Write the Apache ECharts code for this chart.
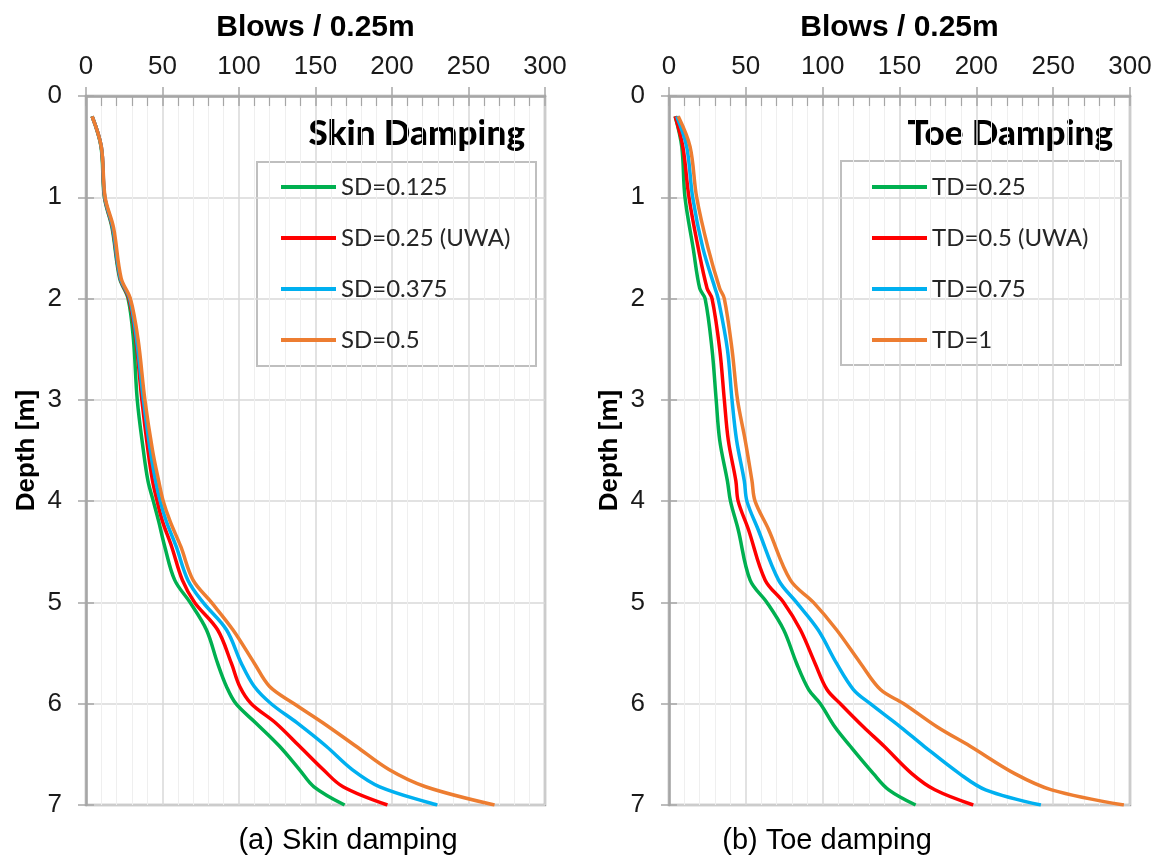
<!DOCTYPE html>
<html>
<head>
<meta charset="utf-8">
<title>Skin and toe damping</title>
<script src="https://cdn.jsdelivr.net/npm/echarts@6/dist/echarts.min.js"></script>
<style>
  html, body { margin: 0; padding: 0; background: #fff; }
  #chart { width: 1159px; height: 860px; }
</style>
</head>
<body>
<div id="chart"></div>
<script>
// Depth [m] at which the blow counts were read, (a) skin damping
const DEPTH_SKIN = [0.2, 0.5, 1.0, 1.3, 1.8, 2.0, 2.4, 3.0, 3.5, 3.8, 4.0, 4.2, 4.45, 4.78, 5.0, 5.27, 5.6, 5.83, 6.0, 6.19, 6.42, 6.65, 6.82, 7.0];
const SD_0125 = [4, 9.8, 12, 17, 22, 27.5, 31, 33.5, 37.5, 40.5, 44, 47.5, 51.5, 58, 68, 78.7, 86, 91.8, 98, 111, 126.5, 139.5, 149, 169];
const SD_025  = [4, 10, 12.2, 17.3, 22.3, 28, 32.5, 36.5, 40.5, 43.5, 46.5, 50, 56, 63, 71, 86, 95, 100.5, 108, 124, 139.6, 155, 168, 197];
const SD_0375 = [4, 10, 12.3, 17.5, 22.5, 28.5, 33, 37.5, 42, 45.5, 48.5, 52.5, 59, 66.6, 76.5, 91.8, 101.5, 110, 121, 138, 157, 174, 192, 229.6];
const SD_05   = [4, 10, 12.5, 18, 23, 29, 34, 38.5, 43.5, 47.5, 50.5, 55, 62, 70, 82, 96, 110, 120, 136, 155, 176.5, 198, 222, 267];

// (b) toe damping
const DEPTH_TOE = [0.2, 0.5, 1.0, 1.5, 1.9, 2.0, 2.5, 3.0, 3.4, 3.8, 4.0, 4.28, 4.78, 5.0, 5.27, 5.6, 5.86, 6.0, 6.23, 6.42, 6.69, 6.85, 7.0];
const TD_025 = [4, 8.3, 10.4, 15.7, 20, 23.5, 28, 30.7, 33, 38, 40, 45, 52.8, 63.7, 74.6, 83, 90.9, 98.5, 108, 118, 133, 143, 160.5];
const TD_05  = [4, 9, 13, 19, 24.8, 28, 33, 36, 38.6, 43.5, 45, 51.7, 62.6, 74.6, 85.5, 95, 102.8, 111.5, 126.6, 140, 158, 173, 198];
const TD_075 = [5, 11.5, 15.4, 22, 30, 32, 38, 41, 44, 49, 50.7, 58, 71.3, 83, 97, 109, 120, 131, 150.7, 166, 189, 206, 242];
const TD_1   = [6, 13.7, 18, 25.4, 33, 36, 41, 44.6, 49.6, 54, 56, 64.8, 79, 94, 109, 124.6, 137.6, 152.8, 174.6, 196, 225, 249, 296];

const SKIN_NAMES = ['SD=0.125', 'SD=0.25 (UWA)', 'SD=0.375', 'SD=0.5'];
const TOE_NAMES = ['TD=0.25', 'TD=0.5 (UWA)', 'TD=0.75', 'TD=1'];
const COLORS = ['#00b050', '#ff0000', '#00b0f0', '#ed7d31'];

const AXIS_FONT = 'Liberation Sans, Arial, sans-serif';
const LEGEND_FONT = 'Lato, Carlito, sans-serif';
const FRAME = '#a6a6a6';

const chart = echarts.init(document.getElementById('chart'));

const grids = [
    { left: 86, top: 96, width: 459, height: 709 },
    { left: 669, top: 96, width: 461, height: 709 }
];

function xAxes(gridIndex) {
    return [{
        gridIndex,
        type: 'value',
        position: 'top',
        min: 0,
        max: 300,
        interval: 50,
        name: 'Blows / 0.25m',
        nameLocation: 'middle',
        nameGap: 53,
        nameTextStyle: { fontFamily: AXIS_FONT, fontSize: 30, fontWeight: 'bold', color: '#000' },
        axisLine: { lineStyle: { color: FRAME, width: 2.5 } },
        axisTick: { inside: true, length: 10, lineStyle: { color: FRAME, width: 1.5 } },
        minorTick: { show: true, splitNumber: 5, length: 10, lineStyle: { color: FRAME, width: 1.2 } },
        axisLabel: { margin: 16, fontFamily: AXIS_FONT, fontSize: 26, color: '#1a1a1a' },
        splitLine: { lineStyle: { color: '#d9d9d9', width: 1.5 } },
        minorSplitLine: { show: true, lineStyle: { color: '#efefef', width: 1 } }
    }, {
        // upper half of the crossing major ticks
        gridIndex,
        type: 'value',
        position: 'top',
        min: 0,
        max: 300,
        interval: 50,
        axisLine: { show: false },
        axisTick: { inside: false, length: 9, lineStyle: { color: FRAME, width: 1.5 } },
        axisLabel: { show: false },
        splitLine: { show: false }
    }];
}

function yAxes(gridIndex) {
    return [{
        gridIndex,
        type: 'value',
        inverse: true,
        min: 0,
        max: 7,
        interval: 1,
        name: 'Depth [m]',
        nameLocation: 'middle',
        nameGap: 46,
        nameTextStyle: { fontFamily: AXIS_FONT, fontSize: 26, fontWeight: 'bold', color: '#000' },
        axisLine: { lineStyle: { color: FRAME, width: 2.5 } },
        axisTick: { inside: false, length: 8, lineStyle: { color: FRAME, width: 1.5 } },
        axisLabel: { margin: 24, fontFamily: AXIS_FONT, fontSize: 26, color: '#1a1a1a' },
        splitLine: { lineStyle: { color: '#d9d9d9', width: 1.5 } }
    }, {
        gridIndex,
        type: 'value',
        inverse: true,
        min: 0,
        max: 7,
        interval: 1,
        position: 'left',
        axisLine: { show: false },
        axisTick: { inside: true, length: 8, lineStyle: { color: FRAME, width: 1.5 } },
        axisLabel: { show: false },
        splitLine: { show: false }
    }];
}

function makeSeries(names, depths, columns, axisOffset) {
    return columns.map((vals, i) => ({
        name: names[i],
        type: 'line',
        xAxisIndex: axisOffset,
        yAxisIndex: axisOffset,
        data: vals.map((v, k) => [v, depths[k]]),
        smooth: 0.35,
        showSymbol: false,
        lineStyle: { color: COLORS[i], width: 3.5 },
        itemStyle: { color: COLORS[i] },
        z: 2 + i
    }));
}

function legendFor(names, left) {
    return {
        data: names,
        orient: 'vertical',
        left,
        top: 175,
        icon: 'rect',
        itemWidth: 55,
        itemHeight: 4,
        itemGap: 27,
        padding: 0,
        textStyle: { fontFamily: LEGEND_FONT, fontSize: 24, lineHeight: 24, color: '#262626' }
    };
}

const option = {
    animation: false,
    grid: grids.map(g => Object.assign({ show: true, borderColor: FRAME, borderWidth: 2.5, containLabel: false }, g)),
    xAxis: [...xAxes(0), ...xAxes(1)],
    yAxis: [...yAxes(0), ...yAxes(1)],
    legend: [legendFor(SKIN_NAMES, 281), legendFor(TOE_NAMES, 872)],
    series: [
        ...makeSeries(SKIN_NAMES, DEPTH_SKIN, [SD_0125, SD_025, SD_0375, SD_05], 0),
        ...makeSeries(TOE_NAMES, DEPTH_TOE, [TD_025, TD_05, TD_075, TD_1], 2)
    ],
    graphic: [
        { type: 'rect', shape: { x: 257, y: 162, width: 279, height: 204 }, style: { fill: '#fff', stroke: '#bfbfbf', lineWidth: 2 }, z: 0 },
        { type: 'rect', shape: { x: 841, y: 161, width: 280, height: 204 }, style: { fill: '#fff', stroke: '#bfbfbf', lineWidth: 2 }, z: 0 },
        { type: 'text', x: 525, y: 134, style: { text: 'Skin Damping', align: 'right', verticalAlign: 'middle', font: '900 35px Lato, Carlito, sans-serif', fill: '#000' } },
        { type: 'text', x: 1113, y: 134, style: { text: 'Toe Damping', align: 'right', verticalAlign: 'middle', font: '900 35px Lato, Carlito, sans-serif', fill: '#000' } },
        { type: 'text', x: 348, y: 841, style: { text: '(a) Skin damping', align: 'center', verticalAlign: 'middle', font: '29px Liberation Sans, Arial, sans-serif', fill: '#000' } },
        { type: 'text', x: 827, y: 841, style: { text: '(b) Toe damping', align: 'center', verticalAlign: 'middle', font: '29px Liberation Sans, Arial, sans-serif', fill: '#000' } }
    ]
};

chart.setOption(option);
window.addEventListener('resize', () => chart.resize());
</script>
</body>
</html>
